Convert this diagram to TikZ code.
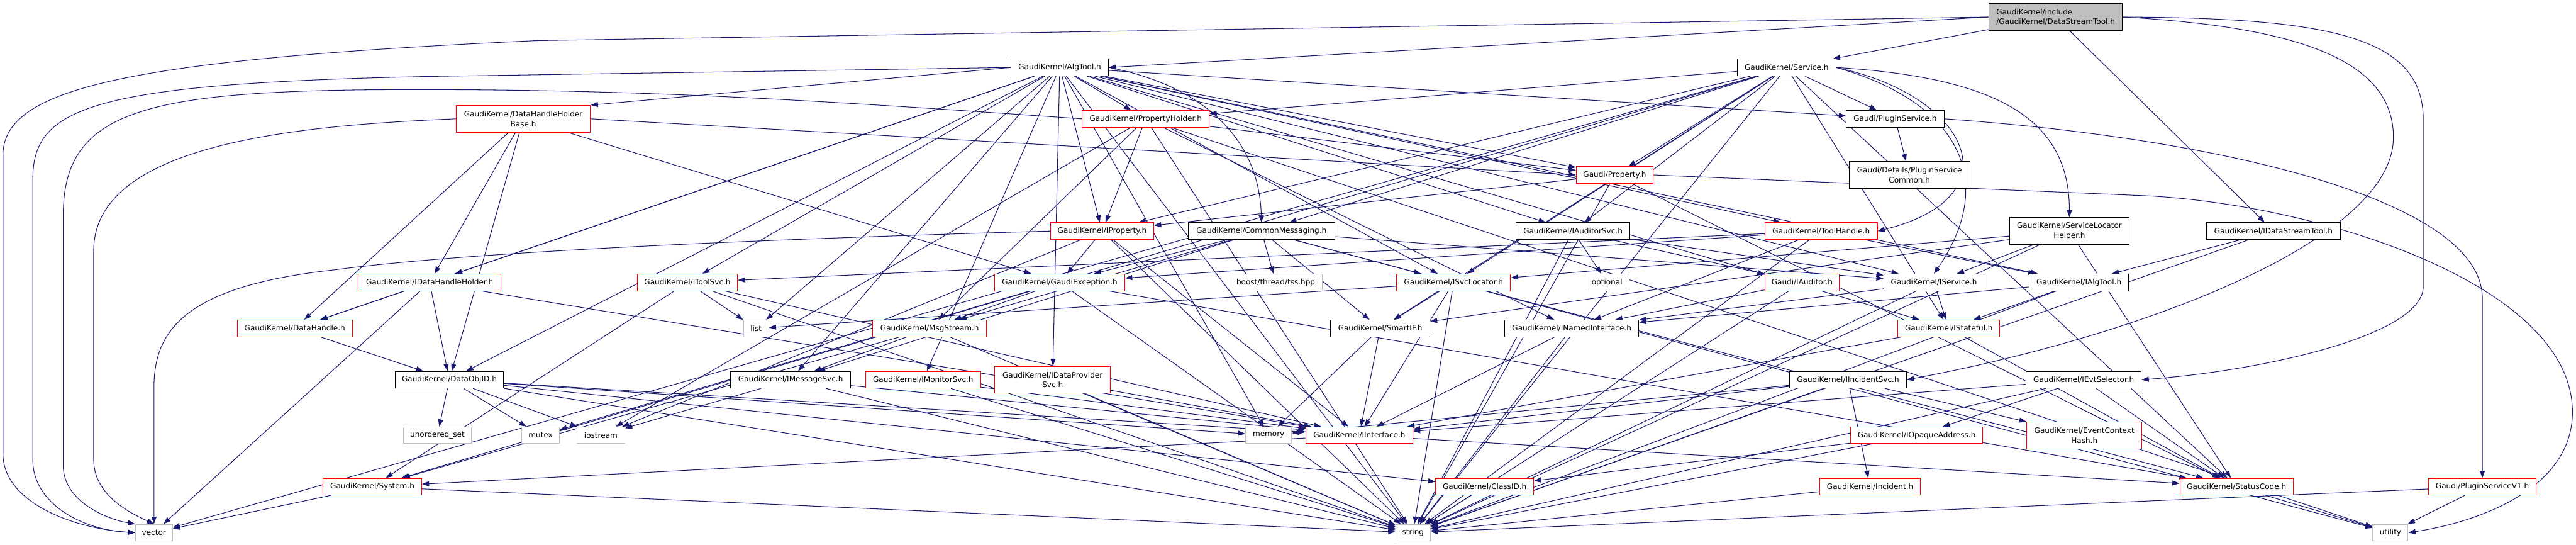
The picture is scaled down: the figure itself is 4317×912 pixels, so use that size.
\documentclass[tikz,border=0pt]{standalone}
\usepackage{fontspec}
\setmainfont{DejaVu Sans}
\usetikzlibrary{arrows.meta}
\pgfdeclarelayer{edges}
\pgfsetlayers{edges,main}
\definecolor{edgeblue}{RGB}{25,25,112}
\definecolor{leafgray}{RGB}{191,191,191}
\begin{document}
\begin{tikzpicture}[x=1pt,y=-1pt,font=\fontsize{12.7}{16.7}\selectfont,
  hdr/.style={draw=black,fill=white,line width=1.1pt,inner sep=0pt,minimum height=28pt,align=center},
  hdrred/.style={hdr,draw=red},
  hdrsys/.style={hdr,draw=leafgray},
  hdrroot/.style={hdr,fill=leafgray,align=left,minimum height=45pt},
  dep/.style={draw=edgeblue,line width=1.1pt,-{Triangle[length=12pt,width=8.5pt]}}]
\useasboundingbox (0,0) rectangle (4317,912);
\node[hdrroot,minimum width=224pt] (ds) at (3445,28.5) {GaudiKernel/include\\/GaudiKernel/DataStreamTool.h};
\node[hdr,minimum width=163pt] (algtool) at (1776,113) {GaudiKernel/AlgTool.h};
\node[hdr,minimum width=165pt] (service) at (2994,113) {GaudiKernel/Service.h};
\node[hdrred,minimum width=225pt,minimum height=45pt] (dhhb) at (877,199) {GaudiKernel/DataHandleHolder\\Base.h};
\node[hdrred,minimum width=213pt] (propholder) at (1920,199) {GaudiKernel/PropertyHolder.h};
\node[hdr,minimum width=164pt] (pluginsvc) at (3176,199) {Gaudi/PluginService.h};
\node[hdrred,minimum width=129pt] (gprop) at (2706,293) {Gaudi/Property.h};
\node[hdr,minimum width=202pt,minimum height=45pt] (pscommon) at (3200,293) {Gaudi/Details/PluginService\\Common.h};
\node[hdrred,minimum width=173pt] (iprop) at (1847,387) {GaudiKernel/IProperty.h};
\node[hdr,minimum width=246pt] (commsg) at (2114,387) {GaudiKernel/CommonMessaging.h};
\node[hdr,minimum width=190pt] (iauditorsvc) at (2636,387) {GaudiKernel/IAuditorSvc.h};
\node[hdrred,minimum width=188pt] (toolhandle) at (3052,387) {GaudiKernel/ToolHandle.h};
\node[hdr,minimum width=200pt,minimum height=45pt] (slhelper) at (3468,387) {GaudiKernel/ServiceLocator\\Helper.h};
\node[hdr,minimum width=225pt] (idst) at (3810,387) {GaudiKernel/IDataStreamTool.h};
\node[hdrred,minimum width=239pt] (idhh) at (720,473) {GaudiKernel/IDataHandleHolder.h};
\node[hdrred,minimum width=168pt] (itoolsvc) at (1152,473) {GaudiKernel/IToolSvc.h};
\node[hdrred,minimum width=218pt] (gexc) at (1776,473) {GaudiKernel/GaudiException.h};
\node[hdrsys,minimum width=155pt] (tss) at (2138,473) {boost/thread/tss.hpp};
\node[hdrred,minimum width=191pt] (isvcloc) at (2436,473) {GaudiKernel/ISvcLocator.h};
\node[hdrsys,minimum width=74pt] (optional) at (2693,473) {optional};
\node[hdrred,minimum width=125pt] (iauditor) at (3020,473) {Gaudi/IAuditor.h};
\node[hdr,minimum width=168pt] (iservice) at (3241,473) {GaudiKernel/IService.h};
\node[hdr,minimum width=167pt] (ialgtool) at (3484,473) {GaudiKernel/IAlgTool.h};
\node[hdrred,minimum width=193pt] (dhandle) at (494,550) {GaudiKernel/DataHandle.h};
\node[hdrsys,minimum width=42pt] (list) at (1267,550) {list};
\node[hdrred,minimum width=191pt] (msgstream) at (1558,550) {GaudiKernel/MsgStream.h};
\node[hdr,minimum width=166pt] (smartif) at (2313,550) {GaudiKernel/SmartIF.h};
\node[hdr,minimum width=225pt] (inamed) at (2634,550) {GaudiKernel/INamedInterface.h};
\node[hdrred,minimum width=171pt] (istateful) at (3266,550) {GaudiKernel/IStateful.h};
\node[hdr,minimum width=182pt] (dataobjid) at (753,636) {GaudiKernel/DataObjID.h};
\node[hdr,minimum width=201pt] (imsgsvc) at (1325,636) {GaudiKernel/IMessageSvc.h};
\node[hdrred,minimum width=193pt] (imonsvc) at (1547,636) {GaudiKernel/IMonitorSvc.h};
\node[hdrred,minimum width=194pt,minimum height=45pt] (idpsvc) at (1764,636) {GaudiKernel/IDataProvider\\Svc.h};
\node[hdr,minimum width=196pt] (iincsvc) at (3097,636) {GaudiKernel/IIncidentSvc.h};
\node[hdr,minimum width=193pt] (ievtsel) at (3492,636) {GaudiKernel/IEvtSelector.h};
\node[hdrsys,minimum width=114pt] (uset) at (733,729) {unordered\_set};
\node[hdrsys,minimum width=63pt] (mutex) at (906,729) {mutex};
\node[hdrsys,minimum width=80pt] (iostream) at (1007,729) {iostream};
\node[hdrsys,minimum width=77pt] (memory) at (2126,729) {memory};
\node[hdrred,minimum width=179pt] (iinterface) at (2278,729) {GaudiKernel/IInterface.h};
\node[hdrred,minimum width=222pt] (iopaque) at (3212,729) {GaudiKernel/IOpaqueAddress.h};
\node[hdrred,minimum width=193pt,minimum height=45pt] (evctxhash) at (3493,729) {GaudiKernel/EventContext\\Hash.h};
\node[hdrred,minimum width=165pt] (system) at (624,815) {GaudiKernel/System.h};
\node[hdrred,minimum width=164pt] (classid) at (2488,815) {GaudiKernel/ClassID.h};
\node[hdrred,minimum width=168pt] (incident) at (3134,815) {GaudiKernel/Incident.h};
\node[hdrred,minimum width=190pt] (statuscode) at (3748,815) {GaudiKernel/StatusCode.h};
\node[hdrred,minimum width=180pt] (psv1) at (4160,815) {Gaudi/PluginServiceV1.h};
\node[hdrsys,minimum width=62pt] (vector) at (258,892) {vector};
\node[hdrsys,minimum width=58pt] (string) at (2368,892) {string};
\node[hdrsys,minimum width=59pt] (utility) at (4006,892) {utility};
\begin{pgfonlayer}{edges}
\draw[dep] (ds.west)--(algtool.east);
\draw[dep] (ds)--(service);
\draw[dep] (ds)--(idst);
\draw[dep] (ds.west)--(900,68) .. controls (200,100) and (5,150) .. (5,260)--(5,760) .. controls (5,840) and (120,885) .. (vector.west);
\draw[dep] (ds.east) .. controls (3900,30) and (4061,60) .. (4061,200)--(4061,480) .. controls (4061,560) and (3800,620) .. (ievtsel.east);
\draw[dep] (ds.east) .. controls (3850,45) and (4011,100) .. (4011,230) .. controls (4011,400) and (3600,560) .. (iincsvc.east);
\draw[dep] (algtool)--(propholder);
\draw[dep] (algtool)--(iprop);
\draw[dep] (algtool.east) .. controls (2000,140) and (2110,220) .. (commsg.north);
\draw[dep] (algtool.west)--(dhhb.north east);
\draw[dep] (algtool)--(idhh);
\draw[dep] (algtool)--(dhandle);
\draw[dep] (algtool)--(dataobjid);
\draw[dep] (algtool)--(itoolsvc);
\draw[dep] (algtool)--(list);
\draw[dep] (algtool)--(imsgsvc);
\draw[dep] (algtool)--(imonsvc);
\draw[dep] (algtool)--(idpsvc);
\draw[dep] (algtool.west)--(720,128) .. controls (150,140) and (55,180) .. (55,300)--(55,770) .. controls (55,845) and (140,888) .. (vector.west);
\draw[dep] (algtool)--(pluginsvc);
\draw[dep] (algtool)--(gprop);
\draw[dep] (algtool)--(isvcloc);
\draw[dep] (algtool)--(iauditorsvc);
\draw[dep] (algtool)--(toolhandle);
\draw[dep] (algtool)--(iservice);
\draw[dep] (algtool)--(ialgtool);
\draw[dep] (algtool)--(istateful);
\draw[dep] (algtool)--(string);
\draw[dep] (algtool)--(memory);
\draw[dep] (service)--(pluginsvc);
\draw[dep] (service)--(gprop);
\draw[dep] (service)--(iprop);
\draw[dep] (service)--(propholder);
\draw[dep] (service)--(commsg);
\draw[dep] (service)--(iauditorsvc);
\draw[dep] (service.east) .. controls (3300,160) and (3380,330) .. (toolhandle.east);
\draw[dep] (service.east) .. controls (3350,130) and (3468,200) .. (slhelper.north);
\draw[dep] (service)--(isvcloc);
\draw[dep] (service.east) .. controls (3280,170) and (3350,300) .. (iservice.north);
\draw[dep] (service)--(istateful);
\draw[dep] (service)--(smartif);
\draw[dep] (service)--(mutex);
\draw[dep] (service)--(vector);
\draw[dep] (service)--(string);
\draw[dep] (service)--(statuscode);
\draw[dep] (dhhb)--(idhh);
\draw[dep] (dhhb)--(dhandle);
\draw[dep] (dhhb)--(dataobjid);
\draw[dep] (dhhb)--(gexc);
\draw[dep] (dhhb.east)--(gprop.west);
\draw[dep] (dhhb.west) .. controls (500,210) and (157,240) .. (157,420)--(157,770) .. controls (157,830) and (220,860) .. (vector.north);
\draw[dep] (propholder)--(gprop);
\draw[dep] (propholder)--(iprop);
\draw[dep] (propholder)--(msgstream);
\draw[dep] (propholder)--(inamed);
\draw[dep] (propholder.west) .. controls (1400,170) and (1100,150) .. (700,150) .. controls (250,150) and (106,180) .. (106,360)--(106,780) .. controls (106,840) and (180,870) .. (vector.north west);
\draw[dep] (propholder)--(iostream);
\draw[dep] (propholder)--(string);
\draw[dep] (propholder)--(utility);
\draw[dep] (pluginsvc)--(pscommon);
\draw[dep] (pluginsvc.east) .. controls (3700,230) and (4160,330) .. (4160,500)--(psv1.north);
\draw[dep] (gprop)--(iprop);
\draw[dep] (gprop)--(string);
\draw[dep] (gprop.east)--(3600,328) .. controls (3900,345) and (4311,480) .. (4311,690) .. controls (4311,820) and (4150,875) .. (utility.east);
\draw[dep] (gprop)--(statuscode);
\draw[dep] (iprop)--(iinterface);
\draw[dep] (iprop)--(gexc);
\draw[dep] (iprop)--(string);
\draw[dep] (iprop)--(iostream);
\draw[dep] (iprop.west) .. controls (1300,400) and (800,420) .. (560,452) .. controls (300,480) and (258,560) .. (258,650)--(vector.north);
\draw[dep] (commsg)--(gexc);
\draw[dep] (commsg)--(imsgsvc);
\draw[dep] (commsg)--(isvcloc);
\draw[dep] (commsg)--(msgstream);
\draw[dep] (commsg)--(smartif);
\draw[dep] (commsg)--(iservice);
\draw[dep] (commsg)--(tss);
\draw[dep] (commsg)--(utility);
\draw[dep] (iauditorsvc)--(iauditor);
\draw[dep] (iauditorsvc)--(optional);
\draw[dep] (iauditorsvc)--(iservice);
\draw[dep] (iauditorsvc)--(string);
\draw[dep] (toolhandle)--(ialgtool);
\draw[dep] (toolhandle)--(itoolsvc);
\draw[dep] (toolhandle)--(inamed);
\draw[dep] (toolhandle)--(gexc);
\draw[dep] (toolhandle)--(string);
\draw[dep] (slhelper)--(isvcloc);
\draw[dep] (slhelper)--(smartif);
\draw[dep] (slhelper)--(iservice);
\draw[dep] (slhelper)--(statuscode);
\draw[dep] (slhelper)--(string);
\draw[dep] (idst)--(ialgtool);
\draw[dep] (idst)--(string);
\draw[dep] (idhh)--(dataobjid);
\draw[dep] (idhh)--(dhandle);
\draw[dep] (idhh)--(vector);
\draw[dep] (idhh)--(iinterface);
\draw[dep] (itoolsvc)--(list);
\draw[dep] (itoolsvc)--(system);
\draw[dep] (itoolsvc)--(string);
\draw[dep] (itoolsvc)--(iinterface);
\draw[dep] (gexc)--(msgstream);
\draw[dep] (gexc)--(statuscode);
\draw[dep] (gexc)--(string);
\draw[dep] (gexc)--(system);
\draw[dep] (isvcloc)--(list);
\draw[dep] (isvcloc)--(iinterface);
\draw[dep] (isvcloc)--(smartif);
\draw[dep] (isvcloc)--(string);
\draw[dep] (isvcloc)--(statuscode);
\draw[dep] (iauditor)--(inamed);
\draw[dep] (iauditor)--(string);
\draw[dep] (iservice)--(istateful);
\draw[dep] (iservice)--(inamed);
\draw[dep] (iservice)--(string);
\draw[dep] (ialgtool)--(istateful);
\draw[dep] (ialgtool)--(inamed);
\draw[dep] (ialgtool)--(string);
\draw[dep] (dhandle)--(dataobjid);
\draw[dep] (msgstream)--(imsgsvc);
\draw[dep] (msgstream)--(system);
\draw[dep] (msgstream)--(string);
\draw[dep] (smartif)--(iinterface);
\draw[dep] (smartif)--(memory);
\draw[dep] (inamed)--(iinterface);
\draw[dep] (inamed)--(string);
\draw[dep] (istateful)--(iinterface);
\draw[dep] (istateful)--(statuscode);
\draw[dep] (dataobjid)--(uset);
\draw[dep] (dataobjid)--(mutex);
\draw[dep] (dataobjid)--(iostream);
\draw[dep] (dataobjid)--(string);
\draw[dep] (dataobjid)--(classid);
\draw[dep] (dataobjid)--(memory);
\draw[dep] (dataobjid)--(iinterface);
\draw[dep] (imsgsvc)--(iinterface);
\draw[dep] (imsgsvc)--(iostream);
\draw[dep] (imsgsvc)--(string);
\draw[dep] (imonsvc)--(iinterface);
\draw[dep] (imonsvc)--(string);
\draw[dep] (idpsvc)--(iinterface);
\draw[dep] (idpsvc)--(string);
\draw[dep] (iincsvc)--(iinterface);
\draw[dep] (iincsvc)--(memory);
\draw[dep] (iincsvc)--(incident);
\draw[dep] (iincsvc)--(evctxhash);
\draw[dep] (iincsvc)--(string);
\draw[dep] (ievtsel)--(iopaque);
\draw[dep] (ievtsel)--(iinterface);
\draw[dep] (ievtsel)--(statuscode);
\draw[dep] (ievtsel)--(string);
\draw[dep] (iopaque)--(classid);
\draw[dep] (iopaque)--(string);
\draw[dep] (iinterface)--(system);
\draw[dep] (iinterface)--(statuscode);
\draw[dep] (system)--(vector);
\draw[dep] (system)--(string);
\draw[dep] (classid)--(string);
\draw[dep] (incident)--(string);
\draw[dep] (statuscode)--(utility);
\draw[dep] (psv1)--(utility);
\draw[dep] (psv1)--(string);
\end{pgfonlayer}
\end{tikzpicture}
\end{document}
